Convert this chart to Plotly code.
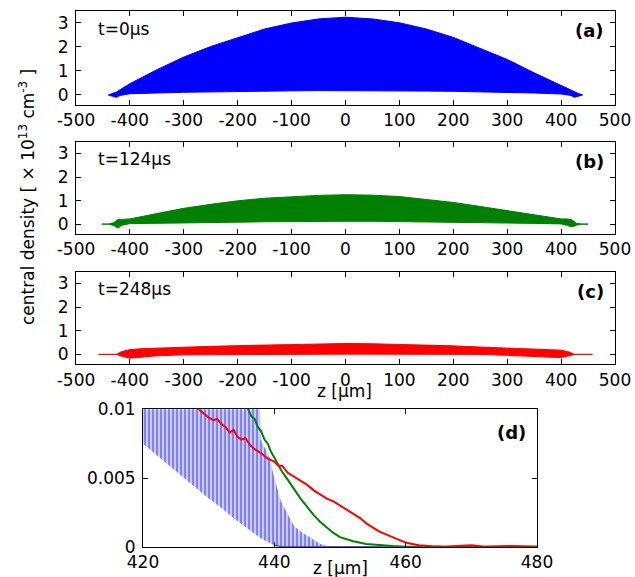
import numpy as np
import plotly.graph_objects as go

W, H = 635, 577

# ---------------- data ----------------
# panel (a) t=0us : envelope of the densely oscillating density profile
a_z = [-440, -432, -425, -418, -400, -350, -300, -250, -200, -150, -100, -50, 0,
       50, 100, 150, 200, 250, 300, 350, 400, 418, 425, 432, 440]
a_up = [0.0, 0.06, 0.12, 0.22, 0.47, 1.05, 1.58, 2.02, 2.40, 2.75, 3.00, 3.17, 3.24,
        3.17, 3.01, 2.75, 2.40, 1.95, 1.48, 0.92, 0.38, 0.22, 0.12, 0.06, 0.0]
a_lo = [0.0, -0.06, -0.1, -0.02, 0.05, 0.08, 0.11, 0.13, 0.15, 0.16, 0.17, 0.18, 0.18,
        0.18, 0.17, 0.16, 0.15, 0.13, 0.11, 0.08, 0.04, -0.02, -0.1, -0.06, 0.0]

# panel (b) t=124us
b_z = [-452, -440, -430, -422, -415, -400, -350, -300, -250, -200, -150, -100, -50, 0,
       50, 100, 150, 200, 250, 300, 350, 400, 412, 420, 428, 440, 450]
b_up = [0.0, 0.0, 0.06, 0.2, 0.2, 0.22, 0.45, 0.67, 0.84, 0.99, 1.10, 1.17, 1.22, 1.25,
        1.23, 1.17, 1.06, 0.92, 0.75, 0.57, 0.40, 0.22, 0.22, 0.18, 0.04, 0.0, 0.0]
b_lo = [0.0, 0.0, -0.06, -0.17, -0.05, 0.02, 0.03, 0.05, 0.06, 0.08, 0.10, 0.11, 0.12, 0.12,
        0.12, 0.11, 0.10, 0.08, 0.06, 0.05, 0.03, 0.01, -0.06, -0.12, -0.05, 0.0, 0.0]

# panel (c) t=248us
c_z = [-458, -425, -415, -400, -380, -350, -300, -250, -200, -150, -100, -50, 0,
       50, 100, 150, 200, 250, 300, 350, 380, 400, 415, 425, 458]
c_up = [0.0, 0.0, 0.12, 0.20, 0.24, 0.27, 0.31, 0.34, 0.37, 0.40, 0.43, 0.45, 0.46,
        0.45, 0.43, 0.40, 0.36, 0.31, 0.26, 0.22, 0.20, 0.18, 0.10, 0.0, 0.0]
c_lo = [0.0, 0.0, -0.08, -0.16, -0.12, -0.06, -0.02, 0.0, 0.01, 0.01, 0.01, 0.01, 0.01,
        0.01, 0.01, 0.01, 0.01, 0.0, -0.04, -0.10, -0.12, -0.13, -0.06, 0.0, 0.0]

# panel (d) zoom on the right edge, 420..480 um
d_blue_z_up = [420, 437.8, 437.9, 438.5, 439, 439.5, 440, 441, 442, 443, 444, 445, 446, 447, 448, 480]
d_blue_up = [0.0105, 0.0105, 0.0078, 0.0072, 0.0068, 0.0060, 0.0050, 0.0033, 0.0024, 0.0015,
             0.0011, 0.0008, 0.0005, 0.0002, 0.00005, 0.0]
d_blue_z_lo = [420, 422, 424, 426, 428, 430, 432, 434, 436, 438, 440, 441, 480]
d_blue_lo = [0.0075, 0.0067, 0.0059, 0.0051, 0.0043, 0.0035, 0.0028, 0.0020, 0.0013, 0.0006,
             0.0001, 0.0, 0.0]

d_green_z = [435.5, 436, 436.5, 437, 437.5, 438, 438.5, 439, 439.5, 440, 441, 442, 443, 444,
             445, 446, 447, 448, 449, 450, 452, 454, 456, 458, 460, 480]
d_green = [0.0105, 0.0100, 0.0095, 0.0093, 0.0087, 0.0084, 0.0078, 0.0075, 0.0069, 0.0065,
           0.0056, 0.0049, 0.0042, 0.0035, 0.0029, 0.0023, 0.0018, 0.0014, 0.0010, 0.0007,
           0.0004, 0.0002, 0.0001, 0.00005, 0.0, 0.0]

d_red_z = [428.0, 429.0, 430.0, 430.8, 431.3, 432.0, 432.6, 433.2, 433.8, 434.4, 435.0, 435.6,
           436.3, 437.0, 438.0, 439.0, 440.0, 440.6, 441.2, 442.0, 443.0, 444.0, 445.0, 446.0,
           447.0, 448.0, 449.0, 450.0, 451.0, 452.0, 453.0, 454.0, 455.0, 456.0, 457.0,
           458.0, 459.0, 460.0, 461.0, 462.0, 464.0, 466.0, 470.0, 472.0, 476.0, 480.0]
d_red = [0.0102, 0.0098, 0.0094, 0.0092, 0.0093, 0.0089, 0.0087, 0.0083, 0.0085, 0.0080,
         0.0078, 0.0079, 0.0074, 0.0071, 0.0068, 0.0064, 0.0062, 0.0059, 0.0059, 0.0054,
         0.0051, 0.0048, 0.0045, 0.0041, 0.0038, 0.0035, 0.0033, 0.0030, 0.0027, 0.0024,
         0.0021, 0.0017, 0.0014, 0.0011, 0.0009, 0.0007, 0.0005, 0.0003, 0.0002, 0.0001,
         0.00003, 0.0, 0.0001, 0.0, 0.00005, 0.0]

main_xticks = [-500, -400, -300, -200, -100, 0, 100, 200, 300, 400, 500]
main_xticktext = ["-500", "-400", "-300", "-200", "-100", "0", "100", "200", "300", "400", "500"]
main_yticks = [0, 1, 2, 3]
d_xticks = [420, 440, 460, 480]
d_yticks = [0, 0.005, 0.01]
d_yticktext = ["0", "0.005", "0.01"]

panel_times = ["t=0μs", "t=124μs", "t=248μs"]
panel_tags = ["(a)", "(b)", "(c)", "(d)"]

BLUE, GREEN, RED = "#0000ff", "#008000", "#ff0000"
FONT = "DejaVu Sans, Liberation Sans, Arial, sans-serif"

# ---------------- layout helpers ----------------
def xd(l, r):
    return [l / W, r / W]

def yd(t, b):
    return [1 - b / H, 1 - t / H]

def px(x):
    return x / W

def py(y):
    return 1 - y / H

fig = go.Figure()

def band(z, up, lo, color, xa, ya):
    xs = list(z) + list(z)[::-1]
    ys = list(up) + list(lo)[::-1]
    fig.add_trace(go.Scatter(x=xs, y=ys, fill="toself", fillcolor=color, mode="lines",
                             line=dict(color=color, width=1), xaxis=xa, yaxis=ya,
                             showlegend=False, hoverinfo="skip"))

band(a_z, a_up, a_lo, BLUE, "x", "y")
band(b_z, b_up, b_lo, GREEN, "x2", "y2")
band(c_z, c_up, c_lo, RED, "x3", "y3")

# panel d, blue comb as a vertical-line pattern between envelopes
xs = list(d_blue_z_up) + list(d_blue_z_lo)[::-1]
ys = list(d_blue_up) + list(d_blue_lo)[::-1]
fig.add_trace(go.Scatter(x=xs, y=ys, fill="toself", mode="lines", line=dict(width=0, color=BLUE),
                         fillcolor="rgba(0,0,0,0)",
                         fillpattern=dict(shape="|", fgcolor=BLUE, bgcolor="rgba(255,255,255,0)",
                                          size=4, solidity=0.7),
                         xaxis="x4", yaxis="y4", showlegend=False, hoverinfo="skip"))
zlo = np.array(d_blue_z_lo)
vlo = np.array(d_blue_lo)
m = zlo >= 440
fig.add_trace(go.Scatter(x=zlo[m], y=vlo[m], mode="lines", line=dict(color=BLUE, width=1),
                         xaxis="x4", yaxis="y4", showlegend=False, hoverinfo="skip"))
fig.add_trace(go.Scatter(x=d_green_z, y=d_green, mode="lines", line=dict(color=GREEN, width=2),
                         xaxis="x4", yaxis="y4", showlegend=False, hoverinfo="skip"))
fig.add_trace(go.Scatter(x=d_red_z, y=d_red, mode="lines", line=dict(color=RED, width=2),
                         xaxis="x4", yaxis="y4", showlegend=False, hoverinfo="skip"))

tickfont = dict(family=FONT, size=17, color="black")
common = dict(showline=True, linecolor="black", linewidth=1, mirror="ticks", ticks="inside",
              ticklen=5, tickcolor="black", tickwidth=1, showgrid=False, zeroline=False,
              tickfont=tickfont, automargin=False)

main_x = xd(76, 615)
panels = [(11, 105), (141.7, 234), (271.7, 364.3)]
for i, (t, b) in enumerate(panels):
    s = "" if i == 0 else str(i + 1)
    fig.layout["xaxis" + s] = dict(domain=main_x, range=[-500, 500], tickvals=main_xticks,
                                   ticktext=main_xticktext, anchor="y" + s, **common)
    fig.layout["yaxis" + s] = dict(domain=yd(t, b), range=[-0.42, 3.5], tickvals=main_yticks,
                                   anchor="x" + s, ticklabelstandoff=3, **common)

fig.layout["xaxis4"] = dict(domain=xd(143, 537), range=[420, 480], tickvals=d_xticks,
                            anchor="y4", **common)
fig.layout["yaxis4"] = dict(domain=yd(409.3, 546.7), range=[0, 0.01], tickvals=d_yticks,
                            ticktext=d_yticktext, anchor="x4", ticklabelstandoff=3, **common)

ann = []
for i, (t, b) in enumerate(panels):
    ann.append(dict(x=px(96), y=py(t + 17.5), xref="paper", yref="paper", text=panel_times[i],
                    showarrow=False, xanchor="left", yanchor="middle",
                    font=dict(family=FONT, size=17, color="black")))
    ann.append(dict(x=px(606), y=py(t + 20), xref="paper", yref="paper",
                    text="<b>" + panel_tags[i] + "</b>", showarrow=False, xanchor="right",
                    yanchor="middle", font=dict(family=FONT, size=18, color="black")))
ann.append(dict(x=px(528), y=py(432.5), xref="paper", yref="paper", text="<b>(d)</b>",
                showarrow=False, xanchor="right", yanchor="middle",
                font=dict(family=FONT, size=18, color="black")))
ann.append(dict(x=px(27), y=py(197), xref="paper", yref="paper", textangle=-90,
                text="central density [ × 10<sup>13</sup> cm<sup>-3</sup> ]", showarrow=False,
                xanchor="center", yanchor="middle", font=dict(family=FONT, size=17, color="black")))
ann.append(dict(x=px(344), y=py(391), xref="paper", yref="paper", text="z [μm]",
                showarrow=False, xanchor="center", yanchor="middle",
                font=dict(family=FONT, size=17, color="black")))
ann.append(dict(x=px(340), y=py(568), xref="paper", yref="paper", text="z [μm]",
                showarrow=False, xanchor="center", yanchor="middle",
                font=dict(family=FONT, size=17, color="black")))

fig.update_layout(width=W, height=H, margin=dict(l=0, r=0, t=0, b=0, autoexpand=False),
                  paper_bgcolor="white", plot_bgcolor="white", annotations=ann,
                  showlegend=False)

fig.write_html("out.html", config={"displayModeBar": False},
               post_script="document.body.style.margin='0px';document.body.style.overflow='hidden';")
